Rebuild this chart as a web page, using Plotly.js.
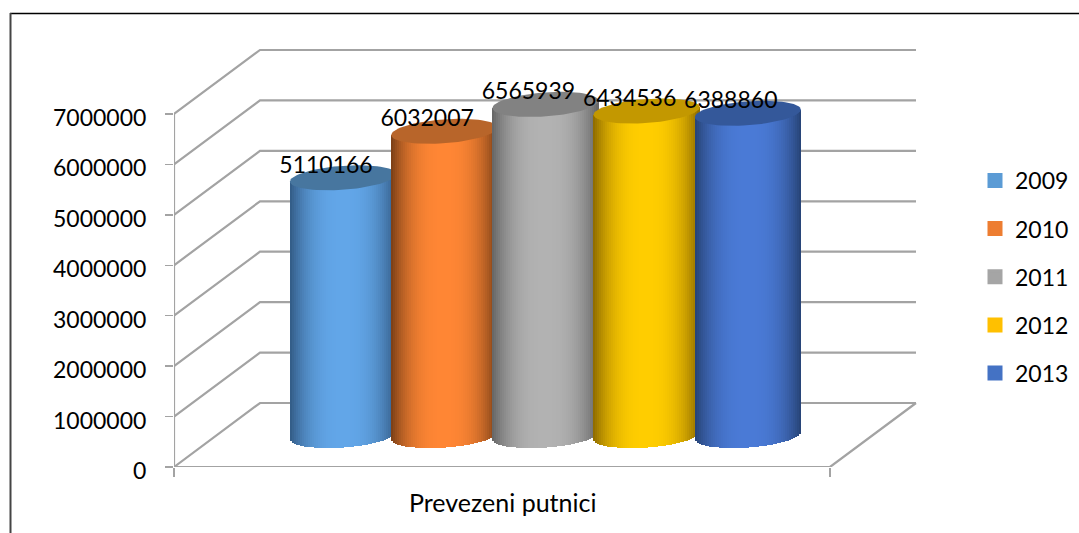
<!DOCTYPE html>
<html><head><meta charset="utf-8">
<script src="https://cdn.plot.ly/plotly-3.0.1.min.js"></script>
<style>html,body{margin:0;padding:0;background:#fff}#c{width:1079px;height:533px}</style>
</head><body><div id="c"></div>
<script>
// ---- data ----
const categoryLabel = "Prevezeni putnici";
const years = ["2009","2010","2011","2012","2013"];
const values = [5110166,6032007,6565939,6434536,6388860];
const yTicks = [0,1000000,2000000,3000000,4000000,5000000,6000000,7000000];
// ---- styles ----
const legendColors = ["#5b9bd5","#ed7d31","#a5a5a5","#ffc000","#4472c4"];
const edgeColors   = [[50,90,132],[120,62,22],[100,100,100],[140,105,0],[38,66,116]];
const midColors    = [[98,166,232],[255,134,52],[178,178,178],[255,205,0],[74,122,214]];
const capColors    = ["#47769f","#b8652a","#828282","#c39800","#34589a"];
const gridColor = "#a3a3a3";
const fontFam = "Lato, sans-serif";
// ---- geometry (pixels of the frame) ----
const W=1079,H=533,L=174,R=917,T=40,B=467, axisW=656, pxPerUnit=50.43/1e6;
const depthX=86/axisW, depthY=64/pxPerUnit;
const px2x=p=>p/axisW, px2y=p=>p/pxPerUnit;
const firstC=343-L, stepC=101.2, rx=53, ry=12, tilt=0.07;
const baseOffset=px2y(31.5);

const traces=[];
// wall and floor lines
const gx=[],gy=[];
yTicks.forEach(v=>{gx.push(0,depthX,1+depthX,null);gy.push(v,v+depthY,v+depthY,null);});
gx.push(0,0,null,0,1,1+depthX);gy.push(0,yTicks[yTicks.length-1],null,0,0,depthY);
traces.push({type:"scatter",mode:"lines",x:gx,y:gy,line:{color:gridColor,width:2.2},showlegend:false,hoverinfo:"skip",cliponaxis:false,zorder:-1});

years.forEach((yr,i)=>{
  const cx=firstC+i*stepC, top=values[i]+baseOffset;
  // solid bar carrying the legend entry
  traces.push({type:"bar",name:yr,legendgroup:yr,x:[px2x(cx)],y:[values[i]],base:[baseOffset],width:[px2x(rx*1.2)],
    marker:{color:legendColors[i],line:{color:legendColors[i],width:3}},hoverinfo:"skip",zorder:i*2});
  // shading
  const n=53,sx=[],sy=[],sb=[],sc=[];
  for(let j=0;j<n;j++){
    const u=-1+(j+.5)*2/n, a=Math.sqrt(1-u*u);
    const k=1-Math.pow(Math.abs(u),2.6);
    const col=edgeColors[i].map((e,c)=>Math.round(e+(midColors[i][c]-e)*k));
    const lower=baseOffset-px2y(ry*a-tilt*rx*u);
    const upper=top+px2y(tilt*rx*u);
    sx.push(px2x(cx+u*rx));sb.push(lower);sy.push(upper-lower);sc.push(`rgb(${col})`);
  }
  traces.push({type:"bar",x:sx,y:sy,base:sb,width:sx.map(()=>px2x(2.6)),marker:{color:sc,line:{width:0}},showlegend:false,hoverinfo:"skip",zorder:i*2});
  // top cap
  const ex=[],ey=[];
  for(let d=0;d<=72;d++){
    const t=d/72*2*Math.PI, u=Math.cos(t);
    ex.push(px2x(cx+rx*u));
    ey.push(top+px2y(ry*Math.sin(t)+tilt*rx*u));
  }
  traces.push({type:"scatter",mode:"lines",x:ex,y:ey,fill:"toself",fillcolor:capColors[i],line:{width:0,color:capColors[i]},showlegend:false,hoverinfo:"skip",zorder:i*2+1});
});
// data labels
traces.push({type:"scatter",mode:"text",
  x:values.map((v,i)=>px2x(firstC+i*stepC-17)),
  y:values.map(v=>v+baseOffset+px2y(11)),
  text:values.map(String),textposition:"middle center",
  textfont:{family:fontFam,size:23,color:"#000"},cliponaxis:false,showlegend:false,hoverinfo:"skip",zorder:50});

const pw=R-L,ph=B-T;
const pxX=p=>(p-L)/pw, pxY=p=>(B-p)/ph;
const layout={
  width:W,height:H,paper_bgcolor:"#fff",plot_bgcolor:"rgba(0,0,0,0)",
  margin:{l:L,r:W-R,t:T,b:H-B,pad:0,autoexpand:false},
  barmode:"overlay",bargap:0,hovermode:false,
  font:{family:fontFam,size:23,color:"#000"},
  xaxis:{range:[0,pw/axisW],tickmode:"array",tickvals:[0,1],ticktext:["",""],ticks:"outside",ticklen:9,tickwidth:1.5,tickcolor:gridColor,showgrid:false,zeroline:false,showline:false,fixedrange:true},
  yaxis:{range:[0,px2y(ph)],tickmode:"array",tickvals:yTicks,ticktext:yTicks.map(String),ticks:"outside",ticklen:8,tickwidth:1.5,tickcolor:gridColor,ticklabelstandoff:14,ticklabelshift:4,showgrid:false,zeroline:false,showline:false,fixedrange:true,tickfont:{family:fontFam,size:23,color:"#000"}},
  legend:{x:pxX(975),xanchor:"left",y:pxY(159),yanchor:"top",tracegroupgap:15.25,traceorder:"grouped",font:{family:fontFam,size:23,color:"#000"},itemwidth:30,bgcolor:"rgba(0,0,0,0)"},
  annotations:[{xref:"x",yref:"paper",x:0.5,y:pxY(502),yanchor:"middle",xanchor:"center",text:categoryLabel,showarrow:false,font:{family:fontFam,size:25,color:"#000"}}],
  shapes:[
    {type:"line",xref:"paper",yref:"paper",x0:pxX(10),x1:pxX(1079),y0:pxY(13.5),y1:pxY(13.5),line:{color:"#000",width:1.5}},
    {type:"line",xref:"paper",yref:"paper",x0:pxX(10.5),x1:pxX(10.5),y0:pxY(13),y1:pxY(533),line:{color:"#444",width:2}}
  ]
};
Plotly.newPlot("c",traces,layout,{displayModeBar:false,staticPlot:true});
</script></body></html>
